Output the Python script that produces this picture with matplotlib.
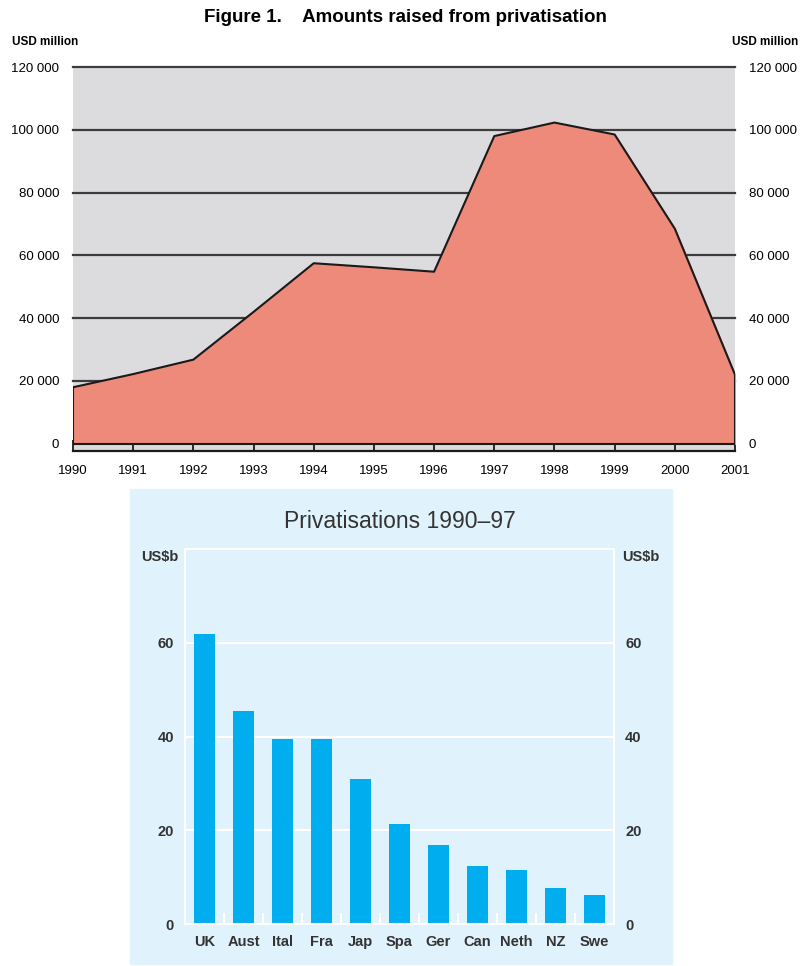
import numpy as np
import matplotlib.pyplot as plt
from matplotlib.patches import Rectangle
from matplotlib.ticker import FuncFormatter

# Amounts raised from privatisation, USD million
years = [1990, 1991, 1992, 1993, 1994, 1995, 1996, 1997, 1998, 1999, 2000, 2001]
amounts = [18000, 22200, 26800, 42000, 57500, 56200, 54800, 98000, 102300, 98500, 68500, 22000]

# Privatisations 1990-97 by country, US$b
countries = ['UK', 'Aust', 'Ital', 'Fra', 'Jap', 'Spa', 'Ger', 'Can', 'Neth', 'NZ', 'Swe']
proceeds = [61.8, 45.5, 39.5, 39.5, 31.0, 21.4, 16.9, 12.3, 11.5, 7.7, 6.1]

W, H = 801, 966
fig = plt.figure(figsize=(W / 100, H / 100), dpi=100)
sans = ['Liberation Sans', 'DejaVu Sans']


def box(l, t, r, b):
    return [l / W, 1 - b / H, (r - l) / W, (b - t) / H]


# ---- top: area chart ----
ax = fig.add_axes(box(73, 67, 735, 451))
ax.set_facecolor('#dcdcde')
ax.set_xlim(1990, 2001)
ax.set_ylim(-2300, 120000)
for v in range(20000, 120001, 20000):
    ax.axhline(v, color='#3c3c3c', lw=1.6, zorder=1, clip_on=False)
ax.fill_between(years, amounts, 0, color='#ee8a7a', zorder=2)
ax.plot(years, amounts, color='#1a1a1a', lw=1.5, zorder=3)
ax.plot([years[0], years[0]], [0, amounts[0]], color='#1a1a1a', lw=1.5, zorder=3)
ax.plot([years[-1], years[-1]], [0, amounts[-1]], color='#1a1a1a', lw=1.5, zorder=3)
ax.axhline(0, color='#1a1a1a', lw=1.5, zorder=3)
for s in ['top', 'left', 'right']:
    ax.spines[s].set_visible(False)
ax.spines['bottom'].set_linewidth(1.6)
ax.spines['bottom'].set_color('#1a1a1a')
ax.set_xticks(years)
ax.set_xticklabels([str(y) for y in years], family=sans, fontsize=9.5)
ax.tick_params(axis='x', direction='in', length=8, width=1.3, color='#1a1a1a', pad=10)
ax.set_yticks(range(0, 120001, 20000))
ax.yaxis.set_major_formatter(FuncFormatter(lambda v, p: f'{int(v):,}'.replace(',', ' ')))
ax.tick_params(axis='y', length=0, labelright=True, labelsize=9.5, pad=10)
for lab in ax.get_yticklabels():
    lab.set_family(sans)

fig.text(405 / W, 1 - 18 / H, 'Figure 1.    Amounts raised from privatisation',
         ha='center', va='center', fontsize=13.5, fontweight='bold', family=sans)
fig.text(12 / W, 1 - 42 / H, 'USD million', ha='left', va='center',
         fontsize=8.5, fontweight='bold', family=sans)
fig.text(798 / W, 1 - 42 / H, 'USD million', ha='right', va='center',
         fontsize=8.5, fontweight='bold', family=sans)

# ---- bottom: bar chart on a light blue panel ----
fig.patches.append(Rectangle((130 / W, 1 - 964 / H), (672 - 130) / W, (964 - 489) / H,
                             transform=fig.transFigure, color='#e0f2fc', zorder=0))
bx = fig.add_axes(box(185, 549, 614, 924))
bx.set_zorder(2)
bx.set_facecolor('#e0f2fc')
x = np.arange(len(countries))
bx.set_xlim(-0.5, len(countries) - 0.5)
bx.set_ylim(0, 80)
for v in [20, 40, 60]:
    bx.axhline(v, color='white', lw=1.5, zorder=1)
bx.bar(x, proceeds, width=0.56, color='#00aeef', zorder=2)
for s in bx.spines.values():
    s.set_color('white')
    s.set_linewidth(1.5)
bx.set_xticks(x)
bx.set_xticklabels(countries)
bx.tick_params(axis='x', length=0, pad=8)
bx.set_xticks(x[:-1] + 0.5, minor=True)
bx.tick_params(axis='x', which='minor', direction='in', length=8, width=1.5, color='white')
bx.set_yticks([0, 20, 40, 60])
bx.tick_params(axis='y', length=0, labelright=True, pad=8)
for lab in bx.get_xticklabels() + bx.get_yticklabels():
    lab.set_family(sans)
    lab.set_fontsize(10.5)
    lab.set_fontweight('bold')
    lab.set_color('#333333')

fig.text(400 / W, 1 - 521 / H, 'Privatisations 1990–97', ha='center', va='center',
         fontsize=16.5, color='#333333', family=sans)
fig.text(178 / W, 1 - 557 / H, 'US$b', ha='right', va='center', fontsize=10.5,
         fontweight='bold', color='#333333', family=sans)
fig.text(622 / W, 1 - 557 / H, 'US$b', ha='left', va='center', fontsize=10.5,
         fontweight='bold', color='#333333', family=sans)

fig.savefig('out.png', dpi=100)
